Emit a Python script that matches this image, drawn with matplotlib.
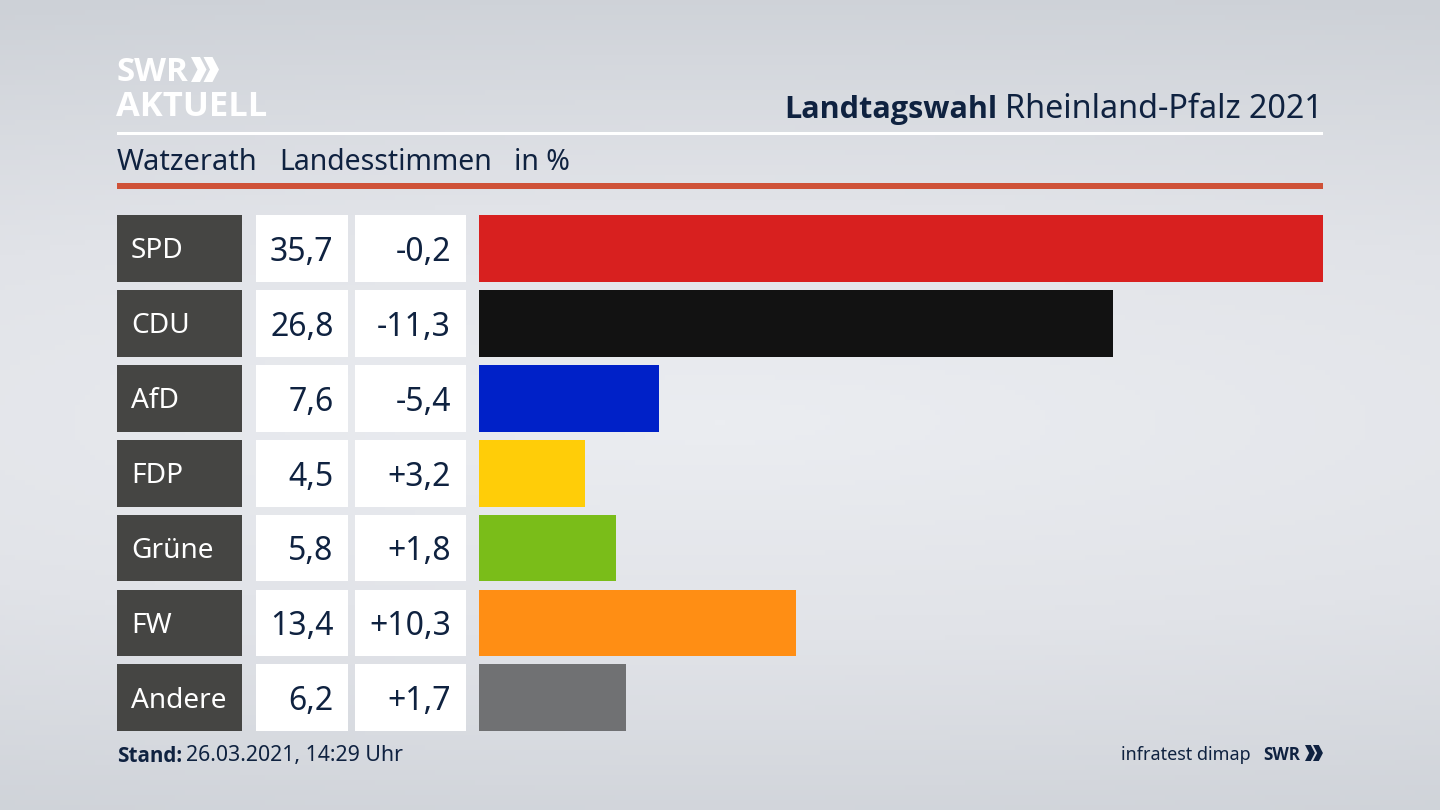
import numpy as np
import matplotlib
matplotlib.use("Agg")
import matplotlib.pyplot as plt
from matplotlib.patches import Rectangle, Polygon
from matplotlib.colors import LinearSegmentedColormap

parties = ["SPD", "CDU", "AfD", "FDP", "Grüne", "FW", "Andere"]
shares = [35.7, 26.8, 7.6, 4.5, 5.8, 13.4, 6.2]
changes = ["-0,2", "-11,3", "-5,4", "+3,2", "+1,8", "+10,3", "+1,7"]
colors = ["#d8201f", "#121212", "#0021c8", "#ffcd08", "#7abd19", "#ff8e14", "#707173"]

NAVY = "#0f2240"
FONT = "Noto Sans"
BOLD = "Open Sans"
plt.rcParams["font.family"] = [FONT, "DejaVu Sans"]
W, H = 1440, 810

def fs(px):
    return px * 0.72

fig = plt.figure(figsize=(14.4, 8.1), dpi=100)
bg = fig.add_axes([0, 0, 1, 1])
bg.set_xlim(0, W)
bg.set_ylim(H, 0)
bg.axis("off")

# soft backdrop: light band in the middle, darker towards the edges
yy, xx = np.mgrid[0:1:162j, 0:1:288j]
d = np.sqrt(((xx - 0.5) / 1.5) ** 2 + ((yy - 0.52) / 0.55) ** 2)
cmap = LinearSegmentedColormap.from_list("bg", ["#ebedf1", "#e1e3e8", "#cdd1d7"])
bg.imshow(np.clip(d, 0, 1), cmap=cmap, extent=(0, W, H, 0), aspect="auto", zorder=0, vmin=0, vmax=1)
bg.set_xlim(0, W)
bg.set_ylim(H, 0)

def rect(x0, y0, x1, y1, c, z=2):
    bg.add_patch(Rectangle((x0, y0), x1 - x0, y1 - y0, fc=c, ec="none", zorder=z))

def chevrons(x, y, h, c):
    """Two right-pointing chevrons of the SWR logo, top-left at x, y."""
    w = h * 0.62
    t = h * 0.36
    for off in (0, h * 0.5):
        pts = [(x + off, y), (x + off + t, y), (x + off + w, y + h / 2),
               (x + off + t, y + h), (x + off, y + h), (x + off + w - t, y + h / 2)]
        bg.add_patch(Polygon(pts, closed=True, fc=c, ec="none", zorder=3))

# header
bg.text(117, 81, "SWR", color="white", fontsize=fs(33), fontweight="bold", family=BOLD, va="baseline", ha="left", zorder=3)
chevrons(191, 57, 25, "white")
bg.text(116, 116, "AKTUELL", color="white", fontsize=fs(34.5), fontweight="bold", family=BOLD, va="baseline", ha="left", zorder=3)
bg.text(784, 110, "Landtagswahl", color=NAVY, fontsize=fs(30.7), fontweight="bold", family=BOLD, va="center", ha="left", zorder=3)
bg.text(1323, 110, "Rheinland-Pfalz 2021", color=NAVY, fontsize=fs(32.3), va="center", ha="right", zorder=3)
rect(117, 132, 1323, 135, "white")
bg.text(117, 163, "Watzerath", color=NAVY, fontsize=fs(29), va="center", ha="left", zorder=3)
bg.text(279, 163, "Landesstimmen", color=NAVY, fontsize=fs(28.4), va="center", ha="left", zorder=3)
bg.text(514, 163, "in %", color=NAVY, fontsize=fs(28.4), va="center", ha="left", zorder=3)
rect(117, 183, 1323, 189, "#cf5238")

# table
tops = [215 + 74.9 * i for i in range(len(parties))]
ROW_H = 66.8
for top, party, share, change in zip(tops, parties, shares, changes):
    bottom = top + ROW_H
    mid = top + ROW_H / 2
    rect(117, top, 241.5, bottom, "#454543")
    rect(256, top, 348, bottom, "white")
    rect(355, top, 466, bottom, "white")
    bg.text(131, mid + 3, party, color="white", fontsize=fs(28), va="center", ha="left", zorder=3)
    bg.text(333.5, mid + 4, f"{share:.1f}".replace(".", ","), color=NAVY, fontsize=fs(32), va="center", ha="right", zorder=3)
    bg.text(451, mid + 4, change, color=NAVY, fontsize=fs(32), va="center", ha="right", zorder=3)

# bars
ax = fig.add_axes([479 / W, 0, (1323 - 479) / W, 1], facecolor="none")
ax.set_xlim(0, max(shares))
ax.set_ylim(H, 0)
ax.axis("off")
ax.barh([t + ROW_H / 2 for t in tops], shares, height=ROW_H, color=colors, linewidth=0)

# footer
bg.text(117, 756, "Stand:", color=NAVY, fontsize=fs(20.7), fontweight="bold", family=BOLD, va="center", ha="left", zorder=3)
bg.text(186, 756, "26.03.2021, 14:29 Uhr", color=NAVY, fontsize=fs(21.3), va="center", ha="left", zorder=3)
bg.text(1251, 755, "infratest dimap", color=NAVY, fontsize=fs(18), va="center", ha="right", zorder=3)
bg.text(1263, 755, "SWR", color=NAVY, fontsize=fs(17), fontweight="bold", family=BOLD, va="center", ha="left", zorder=3)
chevrons(1305, 745, 16, NAVY)

fig.savefig("out.png", dpi=100)
